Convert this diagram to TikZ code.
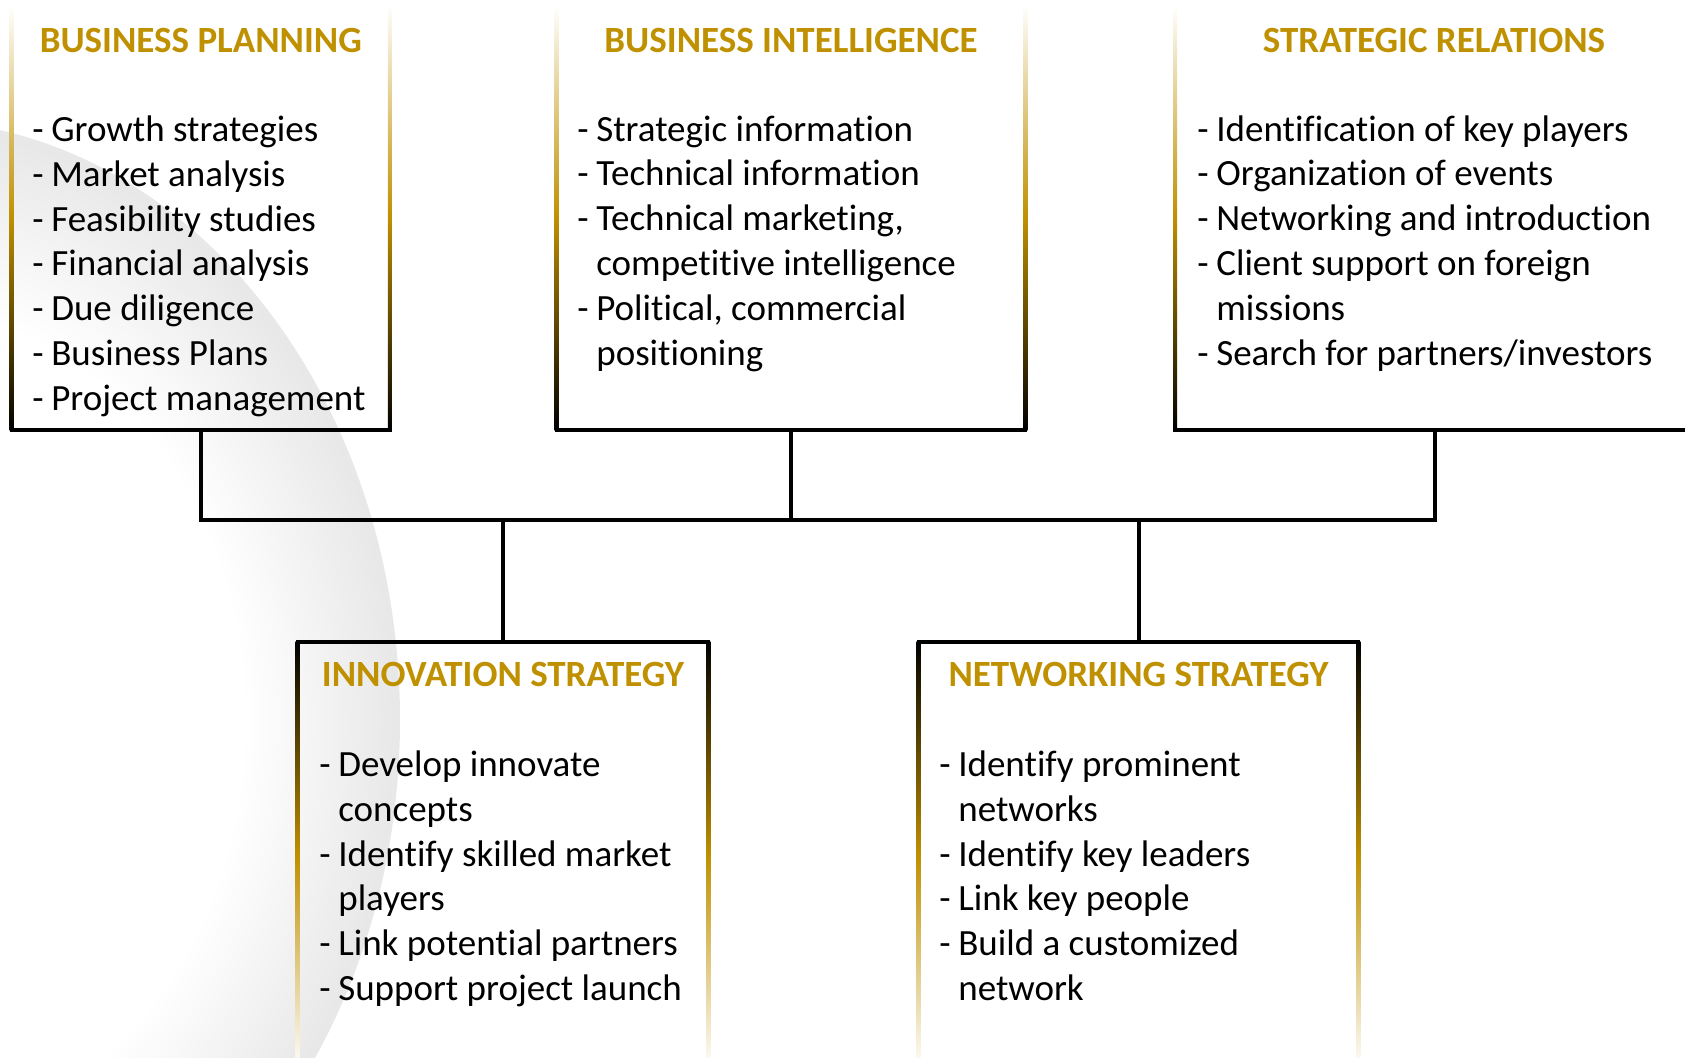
\documentclass[tikz,border=0pt]{standalone}
\usepackage{fontspec}
\setmainfont{Carlito}[Ligatures=CommonOff]
\usetikzlibrary{positioning}

\definecolor{titlegold}{RGB}{191,144,0}
\pgfdeclareradialshading{swoosh}{\pgfpoint{0bp}{0bp}}{color(0bp)=(white); color(17bp)=(white); color(24.7bp)=(black!9); color(25bp)=(black!9); color(50bp)=(black!9)}

\begin{document}
\begin{tikzpicture}[x=0.5pt,y=-0.5pt,
    heading/.style={font=\fontsize{18.5}{22}\selectfont\bfseries, text=titlegold, anchor=base, inner sep=0pt},
    itemlist/.style={font=\fontsize{18.5}{22.4}\selectfont, anchor=base west, inner sep=0pt},
    boxframe/.style={inner sep=0pt},
    fadedown/.style={top color=white, bottom color=black, middle color=titlegold},
    fadeup/.style={top color=black, bottom color=white, middle color=titlegold},
    rim/.style={line width=2pt, line cap=rect},
    link/.style={line width=2pt}]
  \useasboundingbox (0,0) rectangle (1685,1057);

  % background swoosh
  \begin{scope}
    \clip (0,0) rectangle (1685,1057);
    \shade[shading=swoosh] (-90,720) ellipse (490 and 600);
  \end{scope}

  % boxes (frames only)
  \node[boxframe, minimum width=188.75pt, minimum height=212.5pt] (planning) at (200.75,217.5) {};
  \node[boxframe, minimum width=234pt, minimum height=212.5pt] (intelligence) at (791,217.5) {};
  \node[boxframe, minimum width=259.75pt, minimum height=212.5pt] (relations) at (1435.25,217.5) {};
  \node[boxframe, minimum width=205pt, minimum height=214pt] (innovation) at (503,856) {};
  \node[boxframe, minimum width=219.5pt, minimum height=214pt] (networking) at (1138.5,856) {};

  % top row: sides fade from white to gold to black
  \foreach \b in {planning,intelligence,relations}{
    \shade[fadedown] ([xshift=-1pt]\b.north west) rectangle ([xshift=1pt]\b.south west);
    \shade[fadedown] ([xshift=-1pt]\b.north east) rectangle ([xshift=1pt]\b.south east);
    \draw[rim] (\b.south west) -- (\b.south east);
  }

  % bottom row: sides fade from black to gold to white
  \foreach \b in {innovation,networking}{
    \shade[fadeup] ([xshift=-1pt]\b.north west) rectangle ([xshift=1pt]\b.south west);
    \shade[fadeup] ([xshift=-1pt]\b.north east) rectangle ([xshift=1pt]\b.south east);
    \draw[rim] (\b.north west) -- (\b.north east);
  }

  % connectors
  \coordinate (bus) at (791,520);
  \draw[link] (planning.south) |- (bus) -| (relations.south);
  \draw[link] (intelligence.south) -- (bus);
  \draw[link] (innovation.north) -- (innovation.north |- bus);
  \draw[link] (networking.north) -- (networking.north |- bus);

  % headings
  \node[heading] (planninghead) at (200.75,52.7) {BUSINESS PLANNING};
  \node[heading] (intelligencehead) at (791,52.7) {BUSINESS INTELLIGENCE};
  \node[heading] (relationshead) at (1434,52.7) {STRATEGIC RELATIONS};
  \node[heading] (innovationhead) at (503,686.5) {INNOVATION STRATEGY};
  \node[heading] (networkinghead) at (1138.5,686.5) {NETWORKING STRATEGY};

  % item lists
  \node[itemlist] (planningitems) at (32,141.5) {\begin{tabular}[t]{@{}l@{\hspace{3.8pt}}l@{}}
    -&Growth strategies\\
    -&Market analysis\\
    -&Feasibility studies\\
    -&Financial analysis\\
    -&Due diligence\\
    -&Business Plans\\
    -&Project management
  \end{tabular}};
  \node[itemlist] (intelligenceitems) at (577,141) {\begin{tabular}[t]{@{}l@{\hspace{3.8pt}}l@{}}
    -&Strategic information\\
    -&Technical information\\
    -&Technical marketing,\\
    &competitive intelligence\\
    -&Political, commercial\\
    &positioning
  \end{tabular}};
  \node[itemlist] (relationsitems) at (1197,141) {\begin{tabular}[t]{@{}l@{\hspace{3.8pt}}l@{}}
    -&Identification of key players\\
    -&Organization of events\\
    -&Networking and introduction\\
    -&Client support on foreign\\
    &missions\\
    -&Search for partners/investors
  \end{tabular}};
  \node[itemlist] (innovationitems) at (319,776.5) {\begin{tabular}[t]{@{}l@{\hspace{3.8pt}}l@{}}
    -&Develop innovate\\
    &concepts\\
    -&Identify skilled market\\
    &players\\
    -&Link potential partners\\
    -&Support project launch
  \end{tabular}};
  \node[itemlist] (networkingitems) at (939,776.5) {\begin{tabular}[t]{@{}l@{\hspace{3.8pt}}l@{}}
    -&Identify prominent\\
    &networks\\
    -&Identify key leaders\\
    -&Link key people\\
    -&Build a customized\\
    &network
  \end{tabular}};
\end{tikzpicture}
\end{document}
